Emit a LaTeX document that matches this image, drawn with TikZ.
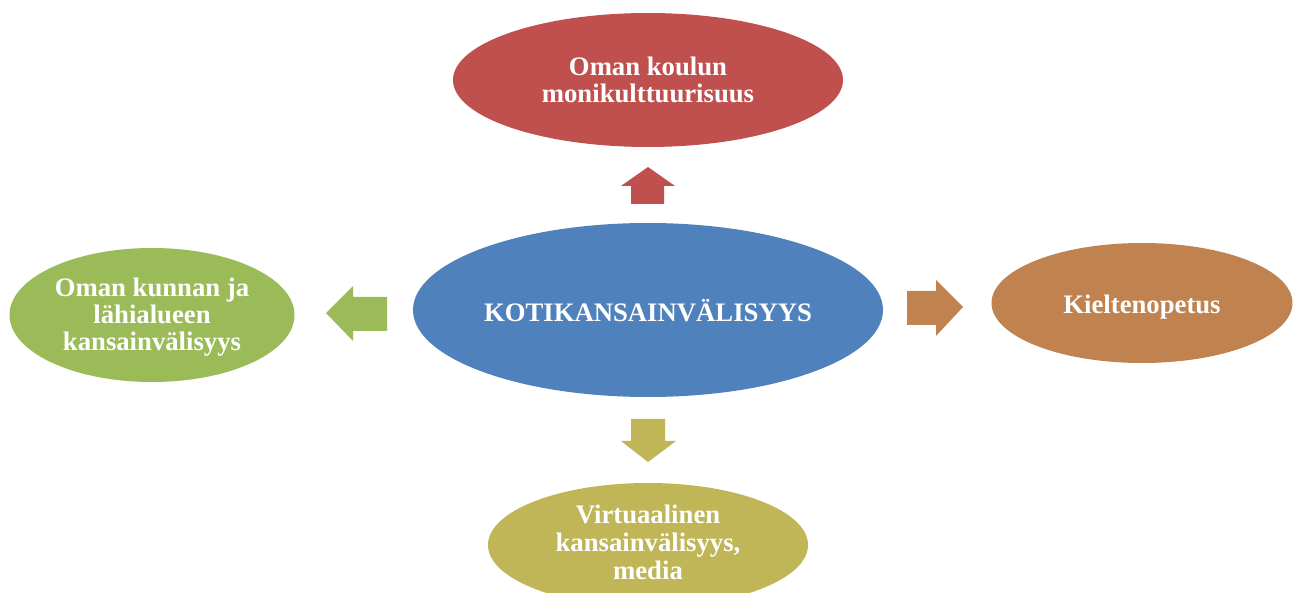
\documentclass[tikz,border=0pt]{standalone}
\usepackage{fontspec}
\setmainfont{Liberation Serif}
\usetikzlibrary{shapes.geometric}
\definecolor{cred}{RGB}{192,80,77}
\definecolor{cblue}{RGB}{79,129,189}
\definecolor{cgreen}{RGB}{155,187,89}
\definecolor{corange}{RGB}{192,131,80}
\definecolor{colive}{RGB}{192,181,87}
\tikzset{
  bubble/.style={ellipse, inner sep=0pt, text=white, align=center,
    font=\fontsize{26.7}{27}\selectfont\bfseries},
  bubbletext/.style={text=white, align=center, inner sep=0pt,
    font=\fontsize{26.7}{27}\selectfont\bfseries}
}
\begin{document}
\begin{tikzpicture}[x=1pt,y=-1pt]
\clip (0,0) rectangle (1299,593);
\fill[white] (0,0) rectangle (1299,593);
% ellipses
\node[bubble, fill=cblue, minimum width=470, minimum height=174] (center) at (648,310) {};
\node[bubbletext] (centertext) at (648,311) {KOTIKANSAINVÄLISYYS};
\node[bubble, fill=cred, minimum width=390, minimum height=134] (top) at (648,80) {Oman koulun\\monikulttuurisuus};
\node[bubble, fill=cgreen, minimum width=285, minimum height=134] (left) at (152,315) {};
\node[bubbletext] (lefttext) at (152,317) {Oman kunnan ja\\lähialueen\\kansainvälisyys};
\node[bubble, fill=corange, minimum width=301, minimum height=120] (right) at (1142,303) {};
\node[bubbletext] (righttext) at (1142,307) {Kieltenopetus};
\node[bubble, fill=colive, minimum width=320, minimum height=124] (bottom) at (648,545) {};
\node[bubbletext, font=\fontsize{26.7}{28}\selectfont\bfseries] (bottomtext) at (648,542) {Virtuaalinen\\kansainvälisyys,\\media};
% block arrows
\fill[cred] (631,204) -- (631,186) -- (621,186) -- (648,167) -- (675,186) -- (664,186) -- (664,204) -- cycle;
\fill[cgreen] (387,297) -- (353,297) -- (353,286) -- (326,313) -- (353,341) -- (353,331) -- (387,331) -- cycle;
\fill[corange] (907,291) -- (936,291) -- (936,280) -- (963,307) -- (936,336) -- (936,325) -- (907,325) -- cycle;
\fill[colive] (631,419) -- (665,419) -- (665,441) -- (676,441) -- (648,462) -- (621,441) -- (631,441) -- cycle;
\end{tikzpicture}
\end{document}
